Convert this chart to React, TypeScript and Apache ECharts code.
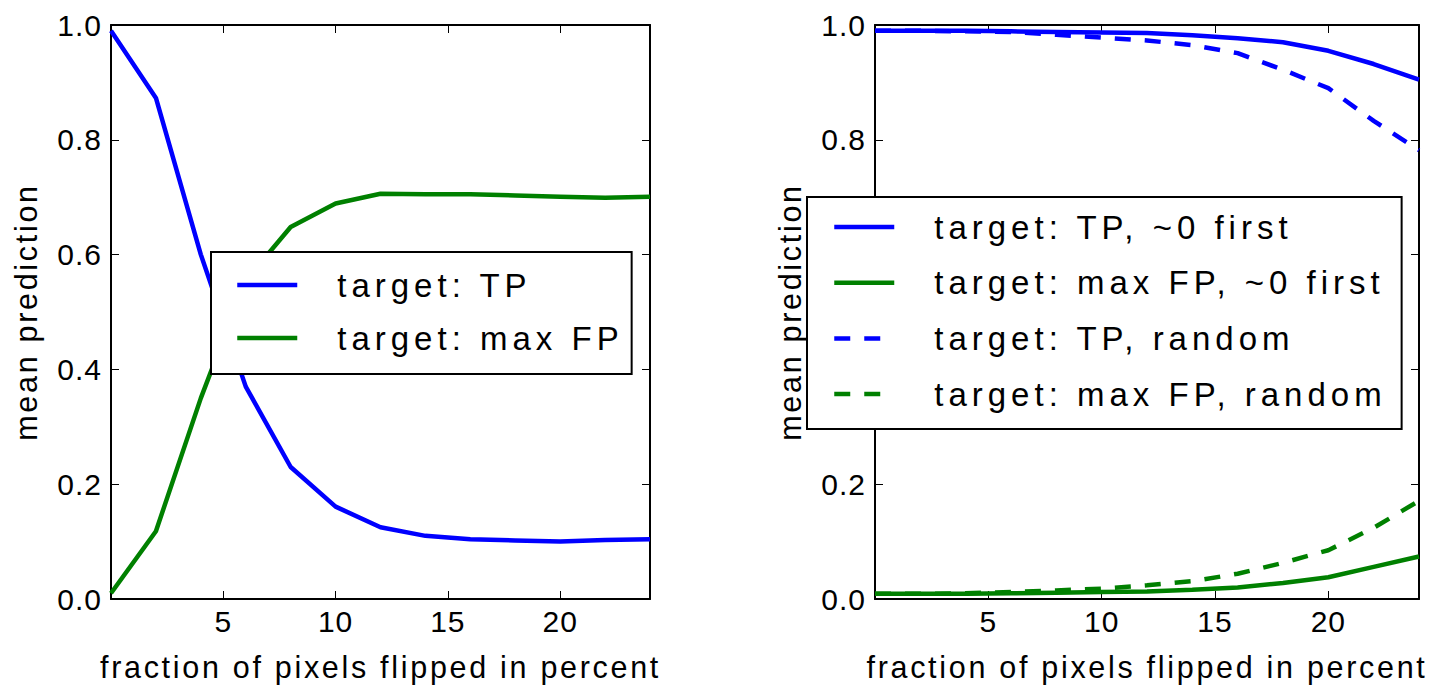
import React, { useEffect, useRef } from "react";
import * as echarts from "echarts";

const xs = [0, 2, 4, 6, 8, 10, 12, 14, 16, 18, 20, 22, 24];
const leftTP = [0.99, 0.873, 0.6, 0.37, 0.23, 0.161, 0.125, 0.11, 0.104, 0.102, 0.1, 0.103, 0.104];
const leftFP = [0.01, 0.118, 0.35, 0.555, 0.648, 0.689, 0.706, 0.705, 0.705, 0.703, 0.701, 0.699, 0.701];
const rightTPFirst = [0.99, 0.99, 0.99, 0.989, 0.988, 0.987, 0.986, 0.982, 0.977, 0.97, 0.955, 0.932, 0.905];
const rightFPFirst = [0.009, 0.009, 0.009, 0.01, 0.011, 0.012, 0.013, 0.016, 0.02, 0.028, 0.038, 0.056, 0.074];
const rightTPRandom = [0.99, 0.99, 0.989, 0.988, 0.983, 0.978, 0.973, 0.965, 0.951, 0.922, 0.89, 0.833, 0.782];
const rightFPRandom = [0.009, 0.009, 0.01, 0.012, 0.015, 0.018, 0.024, 0.031, 0.044, 0.063, 0.085, 0.124, 0.171];

const leftNames = ["target: TP", "target: max FP"];
const rightNames = [
  "target: TP, ~0 first",
  "target: max FP, ~0 first",
  "target: TP, random",
  "target: max FP, random",
];
const xName = "fraction of pixels flipped in percent";
const yName = "mean prediction";

const BLUE = "#0000ff";
const GREEN = "#008000";
const FONT = "'Liberation Sans', Arial, sans-serif";

const zip = (ys: number[]) => xs.map((x, i) => [x, ys[i]]);

function xAxes(gridIndex: number) {
  const common = {
    gridIndex,
    type: "value",
    min: 0,
    max: 24,
    interval: 5,
    splitLine: { show: false },
    axisLine: { show: true, onZero: false, lineStyle: { color: "#000", width: 2 } },
    axisTick: { show: true, inside: true, length: 8, lineStyle: { color: "#000", width: 1 } },
  };
  return [
    {
      ...common,
      position: "bottom",
      name: xName,
      nameLocation: "middle",
      nameGap: 52,
      nameTextStyle: { fontSize: 30.5, color: "#000", fontFamily: FONT },
      axisLabel: {
        show: true,
        showMinLabel: false,
        showMaxLabel: false,
        fontSize: 30,
        color: "#000",
        fontFamily: FONT,
        margin: 7,
      },
    },
    { ...common, position: "top", axisLabel: { show: false } },
  ];
}

function yAxes(gridIndex: number) {
  const common = {
    gridIndex,
    type: "value",
    min: 0,
    max: 1,
    interval: 0.2,
    splitLine: { show: false },
    axisLine: { show: true, onZero: false, lineStyle: { color: "#000", width: 2 } },
    axisTick: { show: true, inside: true, length: 8, lineStyle: { color: "#000", width: 1 } },
  };
  return [
    {
      ...common,
      position: "left",
      name: yName,
      nameLocation: "middle",
      nameGap: 70,
      nameTextStyle: { fontSize: 30.5, color: "#000", fontFamily: FONT },
      axisLabel: {
        show: true,
        fontSize: 30,
        color: "#000",
        fontFamily: FONT,
        margin: 9,
        formatter: (v: number) => v.toFixed(1),
      },
    },
    { ...common, position: "right", axisLabel: { show: false } },
  ];
}

function lineSeries(name: string, ys: number[], color: string, dashed: boolean, axis: number) {
  return {
    name,
    type: "line",
    xAxisIndex: axis,
    yAxisIndex: axis,
    data: zip(ys),
    symbol: "none",
    color,
    lineStyle: { color, width: 4.5, type: dashed ? [16, 14] : "solid" },
  };
}

const legendBase = {
  orient: "vertical",
  selectedMode: false,
  backgroundColor: "#fff",
  borderColor: "#000",
  borderWidth: 2,
  borderRadius: 0,
  itemWidth: 60,
  itemHeight: 33,
  itemStyle: { opacity: 0 },
  lineStyle: { width: 4.5 },
  textStyle: {
    fontSize: 33,
    lineHeight: 33,
    color: "#000",
    fontFamily: FONT,
    padding: [0, 0, 0, 35],
  },
};

export default function App() {
  const ref = useRef<HTMLDivElement>(null);
  useEffect(() => {
    if (!ref.current) return;
    const chart = echarts.init(ref.current, undefined, { renderer: "svg" });
    chart.setOption({
      animation: false,
      backgroundColor: "#fff",
      grid: [
        { left: 111, right: 797, top: 25, bottom: 84 },
        { left: 875, right: 28, top: 25, bottom: 84 },
      ],
      xAxis: [...xAxes(0), ...xAxes(1)],
      yAxis: [...yAxes(0), ...yAxes(1)],
      legend: [
        {
          ...legendBase,
          data: leftNames,
          left: 211,
          top: 252,
          padding: [16.5, 78, 19.5, 24],
          itemGap: 20,
        },
        {
          ...legendBase,
          data: rightNames,
          left: 807,
          top: 197,
          padding: [13.5, 125, 18.5, 25],
          itemGap: 22.7,
        },
      ],
      series: [
        lineSeries(leftNames[0], leftTP, BLUE, false, 0),
        lineSeries(leftNames[1], leftFP, GREEN, false, 0),
        lineSeries(rightNames[0], rightTPFirst, BLUE, false, 2),
        lineSeries(rightNames[1], rightFPFirst, GREEN, false, 2),
        lineSeries(rightNames[2], rightTPRandom, BLUE, true, 2),
        lineSeries(rightNames[3], rightFPRandom, GREEN, true, 2),
      ],
    });
    return () => chart.dispose();
  }, []);
  return (
    <>
      <style>{`
        #chartroot text { letter-spacing: 1px; }
        #chartroot text[style*="30.5px"] { letter-spacing: 2.7px; }
        #chartroot text[style*="33px"] { letter-spacing: 5px; }
      `}</style>
      <div
        id="chartroot"
        ref={ref}
        style={{ position: "absolute", left: 0, top: 0, width: 1447, height: 687, background: "#fff" }}
      />
    </>
  );
}
